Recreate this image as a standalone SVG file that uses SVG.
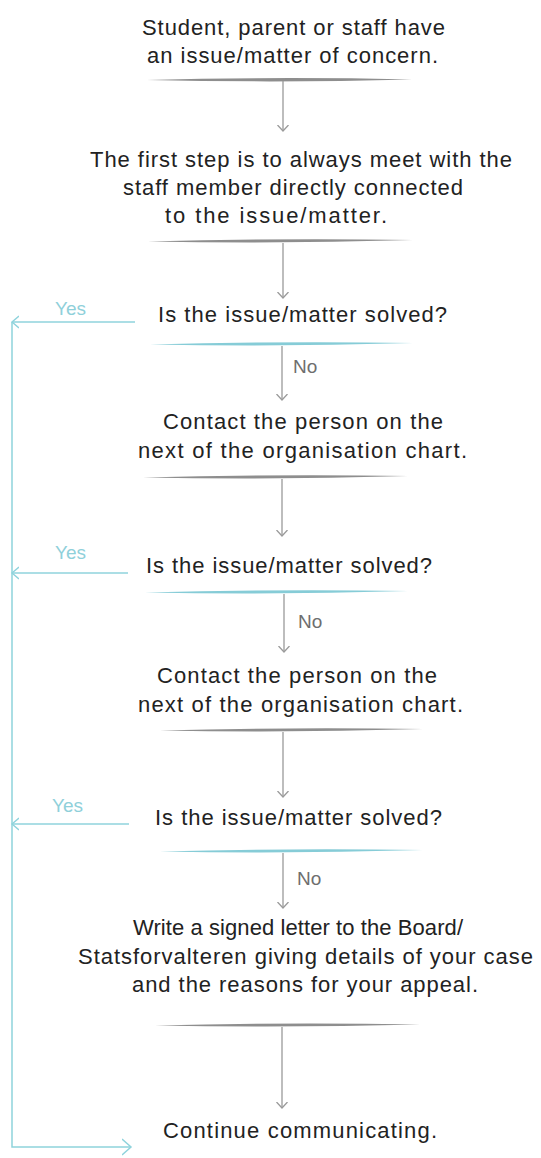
<svg xmlns="http://www.w3.org/2000/svg" width="541" height="1158" viewBox="0 0 541 1158">
<style>
.t{font-family:"Liberation Sans",Arial,sans-serif;font-size:22px;fill:#222}
.yes{font-family:"Liberation Sans",Arial,sans-serif;font-size:19px;fill:#8fd0da}
.no{font-family:"Liberation Sans",Arial,sans-serif;font-size:19px;fill:#6e6e6e}
.g{stroke:#9a9a9a;stroke-width:1.3;fill:none}
.c{stroke:#8fd3dc;stroke-width:1.5;fill:none}
.ug{fill:#8e8e8e}
.uc{fill:#86ccd7}
</style>
<defs>
<marker id="ag" markerWidth="12" markerHeight="12" refX="6" refY="6" orient="auto" markerUnits="userSpaceOnUse">
<path d="M0,0.5 L6,6 L0,11.5" fill="none" stroke="#9a9a9a" stroke-width="1.3"/>
</marker>
<marker id="ac" markerWidth="14" markerHeight="18" refX="9" refY="9" orient="auto" markerUnits="userSpaceOnUse">
<path d="M0,1 L9,9 L0,17" fill="none" stroke="#8fd3dc" stroke-width="1.5"/>
</marker>
<marker id="acs" markerWidth="12" markerHeight="14" refX="7" refY="7" orient="auto" markerUnits="userSpaceOnUse">
<path d="M0,1 L7,7 L0,13" fill="none" stroke="#8fd3dc" stroke-width="1.4"/>
</marker>
</defs>

<g id="n1">
<text class="t" x="142" y="35" textLength="303">Student, parent or staff have</text>
<text class="t" x="147" y="63" textLength="291">an issue/matter of concern.</text>
<path class="ug" d="M147,80 Q280,76.5 412,79.5 Q280,83 147,80 Z"/>
</g>
<g id="n2">
<text class="t" x="90" y="167" textLength="422">The first step is to always meet with the</text>
<text class="t" x="123" y="195" textLength="340">staff member directly connected</text>
<text class="t" x="165" y="223" textLength="222">to the issue/matter.</text>
<path class="ug" d="M148,241.5 Q280,238 413,240 Q280,244 148,241.5 Z"/>
</g>
<g id="q1">
<text class="t" x="158" y="322" textLength="289">Is the issue/matter solved?</text>
<path class="uc" d="M150,344.5 Q280,341 413,343 Q280,347 150,344.5 Z"/>
</g>
<g id="n3">
<text class="t" x="163" y="429" textLength="280">Contact the person on the</text>
<text class="t" x="138" y="458" textLength="329">next of the organisation chart.</text>
<path class="ug" d="M143,477.5 Q275,474 408,476 Q275,480 143,477.5 Z"/>
</g>
<g id="q2">
<text class="t" x="146" y="573" textLength="286">Is the issue/matter solved?</text>
<path class="uc" d="M145,592.5 Q275,589 408,591 Q275,595 145,592.5 Z"/>
</g>
<g id="n4">
<text class="t" x="157" y="683" textLength="280">Contact the person on the</text>
<text class="t" x="138" y="712" textLength="325">next of the organisation chart.</text>
<path class="ug" d="M160,730.5 Q290,727 423,729 Q290,733 160,730.5 Z"/>
</g>
<g id="q3">
<text class="t" x="155" y="825" textLength="287">Is the issue/matter solved?</text>
<path class="uc" d="M160,851.5 Q290,848 423,850 Q290,854 160,851.5 Z"/>
</g>
<g id="n5">
<text class="t" x="133" y="935" textLength="330">Write a signed letter to the Board/</text>
<text class="t" x="78" y="964" textLength="455">Statsforvalteren giving details of your case</text>
<text class="t" x="132" y="992" textLength="346">and the reasons for your appeal.</text>
<path class="ug" d="M155,1025.5 Q288,1022 420,1024.5 Q288,1028 155,1025.5 Z"/>
</g>
<g id="n6">
<text class="t" x="163" y="1138" textLength="274">Continue communicating.</text>
</g>

<g id="connectors">
<line class="g" x1="283" y1="81" x2="283" y2="131" marker-end="url(#ag)"/>
<line class="g" x1="283" y1="243" x2="283" y2="298" marker-end="url(#ag)"/>
<line class="g" x1="282" y1="346" x2="282" y2="400" marker-end="url(#ag)"/>
<line class="g" x1="282" y1="479" x2="282" y2="536" marker-end="url(#ag)"/>
<line class="g" x1="284" y1="594" x2="284" y2="652" marker-end="url(#ag)"/>
<line class="g" x1="283" y1="732" x2="283" y2="797" marker-end="url(#ag)"/>
<line class="g" x1="283" y1="853" x2="283" y2="908" marker-end="url(#ag)"/>
<line class="g" x1="282" y1="1027" x2="282" y2="1108" marker-end="url(#ag)"/>

<line class="c" x1="135" y1="322" x2="12" y2="322" marker-end="url(#acs)"/>
<line class="c" x1="128" y1="573" x2="12" y2="573" marker-end="url(#acs)"/>
<line class="c" x1="129" y1="824" x2="12" y2="824" marker-end="url(#acs)"/>
<path class="c" d="M12,322 L12,1147 L131,1147" marker-end="url(#ac)"/>

<text class="yes" x="55" y="315">Yes</text>
<text class="yes" x="55" y="559">Yes</text>
<text class="yes" x="52" y="812">Yes</text>
<text class="no" x="293" y="373">No</text>
<text class="no" x="298" y="628">No</text>
<text class="no" x="297" y="885">No</text>
</g>
</svg>
